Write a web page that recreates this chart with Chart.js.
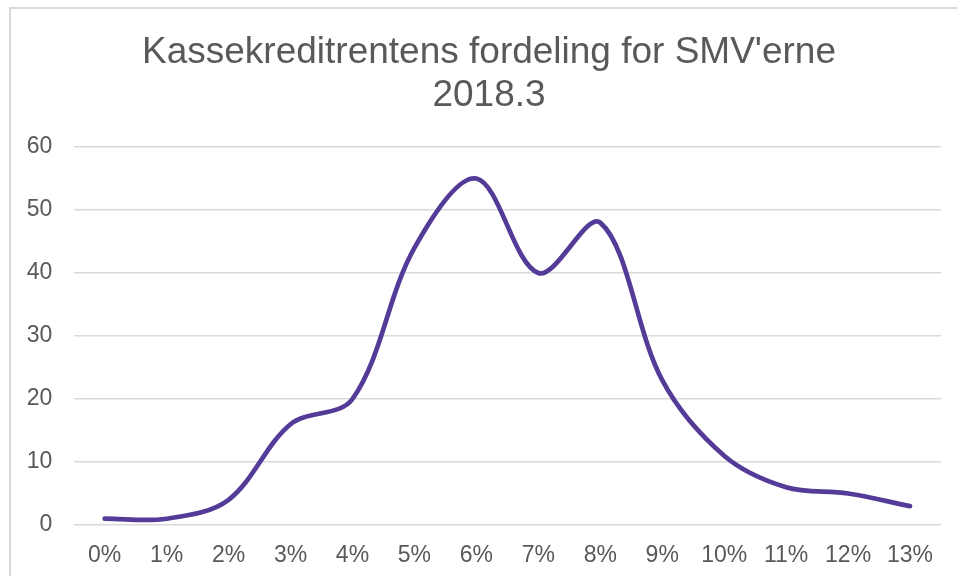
<!DOCTYPE html>
<html lang="da">
<head>
    <meta charset="UTF-8">
    <title>Kassekreditrentens fordeling</title>
    <script src="https://cdn.jsdelivr.net/npm/chart.js"></script>
    <style>
        html, body { margin: 0; padding: 0; background: #fff; overflow: hidden; width: 957px; height: 576px; }
        #box {
            position: absolute;
            left: 9px;
            top: 7px;
            width: 956px;
            height: 567px;
            border: 2px solid #d9d9d9;
            background: #fff;
        }
    </style>
</head>
<body>
    <div id="box">
        <canvas id="rateChart"></canvas>
    </div>

    <script>
        // data
        const rateLabels = ['0%', '1%', '2%', '3%', '4%', '5%', '6%', '7%', '8%', '9%', '10%', '11%', '12%', '13%'];
        const smvCount = [1, 1, 4, 16, 20, 44, 55, 40, 48, 23, 11, 6, 5, 3];
        const yTicks = [0, 10, 20, 30, 40, 50, 60];
        const chartTitle = ["Kassekreditrentens fordeling for SMV'erne", '2018.3'];

        const grey = '#595959';
        const gridGrey = '#d9d9d9';
        const fontFamily = 'Liberation Sans, Arial, sans-serif';

        new Chart(document.getElementById('rateChart'), {
            type: 'line',
            data: {
                labels: rateLabels,
                datasets: [{
                    data: smvCount,
                    borderColor: '#553b98',
                    borderWidth: 4.7,
                    borderCapStyle: 'round',
                    borderJoinStyle: 'round',
                    pointRadius: 0,
                    fill: false,
                    tension: 0.34
                }]
            },
            options: {
                responsive: true,
                maintainAspectRatio: false,
                animation: false,
                layout: { padding: 0 },
                plugins: {
                    legend: { display: false },
                    tooltip: { enabled: false },
                    title: {
                        display: true,
                        text: chartTitle,
                        color: grey,
                        font: { family: fontFamily, size: 37, weight: 'normal', lineHeight: 1.16 },
                        padding: { top: 22.5, bottom: 29.7 }
                    }
                },
                scales: {
                    x: {
                        offset: true,
                        afterFit: axis => { axis.height = 51; },
                        grid: { display: false, drawTicks: false },
                        border: { display: false },
                        ticks: {
                            color: grey,
                            padding: 17,
                            maxRotation: 0,
                            autoSkip: false,
                            font: { family: fontFamily, size: 23 }
                        }
                    },
                    y: {
                        min: yTicks[0],
                        max: yTicks[yTicks.length - 1],
                        afterBuildTicks: axis => { axis.ticks = yTicks.map(v => ({ value: v })); },
                        afterFit: axis => { axis.width = 62.7; },
                        grid: { color: gridGrey, lineWidth: 1.5, drawTicks: false },
                        border: { display: false },
                        ticks: {
                            color: grey,
                            padding: 21.4,
                            font: { family: fontFamily, size: 23 }
                        }
                    },
                    // empty right-hand axis keeps the plot off the right edge
                    yRight: {
                        position: 'right',
                        min: yTicks[0],
                        max: yTicks[yTicks.length - 1],
                        afterFit: axis => { axis.width = 26; },
                        grid: { display: false, drawTicks: false },
                        border: { display: false },
                        ticks: { display: false }
                    }
                }
            }
        });
    </script>
</body>
</html>
